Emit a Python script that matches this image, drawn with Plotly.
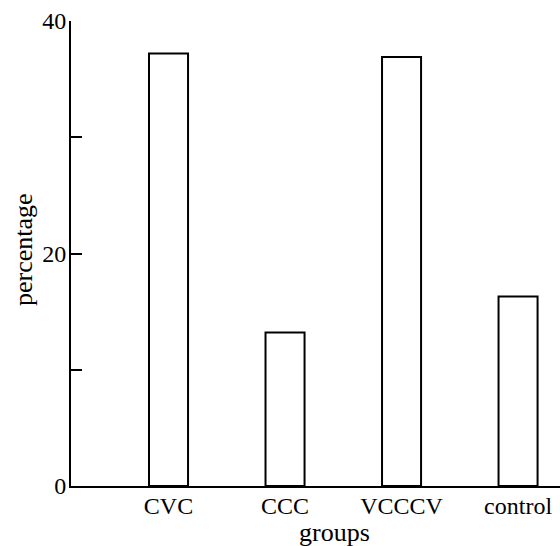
import plotly.graph_objects as go

groups = ["CVC", "CCC", "VCCCV", "control"]
percentage = [37.2, 13.2, 36.9, 16.3]
y_ticks = [0, 10, 20, 30, 40]
y_tick_labels = ["0", "", "20", "", "40"]

FONT = "Liberation Serif"

fig = go.Figure(
    go.Bar(
        x=list(range(len(groups))),
        y=percentage,
        width=0.335,
        marker=dict(color="white", line=dict(color="black", width=2)),
    )
)

fig.update_layout(
    width=560,
    height=546,
    margin=dict(l=71, r=0, t=21, b=60, autoexpand=False),
    plot_bgcolor="white",
    paper_bgcolor="white",
    showlegend=False,
    font=dict(family=FONT, size=22, color="black"),
    xaxis=dict(
        range=[-0.837, 3.36],
        tickmode="array",
        tickvals=list(range(len(groups))),
        ticktext=groups,
        showline=True,
        linecolor="black",
        linewidth=2,
        showgrid=False,
        zeroline=False,
        ticks="",
        automargin=False,
        ticklabelstandoff=-3,
        tickfont=dict(family=FONT, size=24, color="black"),
    ),
    yaxis=dict(
        range=[0, 40],
        tickmode="array",
        tickvals=y_ticks,
        ticktext=y_tick_labels,
        showline=True,
        linecolor="black",
        linewidth=2,
        showgrid=False,
        zeroline=False,
        ticks="inside",
        ticklen=11,
        tickwidth=2,
        tickcolor="black",
        ticklabelstandoff=-2,
        automargin=False,
        tickfont=dict(family=FONT, size=24, color="black"),
    ),
    annotations=[
        dict(
            text="groups",
            x=334,
            y=549,
            xref="paper",
            yref="paper",
            showarrow=False,
            yanchor="bottom",
            font=dict(family=FONT, size=26, color="black"),
        ),
        dict(
            text="percentage",
            x=24,
            y=250,
            xref="paper",
            yref="paper",
            textangle=-90,
            showarrow=False,
            yanchor="middle",
            font=dict(family=FONT, size=26, color="black"),
        ),
    ],
)

# convert pixel-based annotation positions to paper fractions
pw = 560 - 71 - 0
ph = 546 - 21 - 60
for a in fig.layout.annotations:
    px, py = a.x, a.y
    a.x = (px - 71) / pw
    a.y = (546 - 60 - py) / ph
    a.xanchor = "center"

fig.write_html(
    "out.html",
    config={"displayModeBar": False},
    post_script="document.body.style.margin='0px';document.body.style.overflow='hidden';",
)
